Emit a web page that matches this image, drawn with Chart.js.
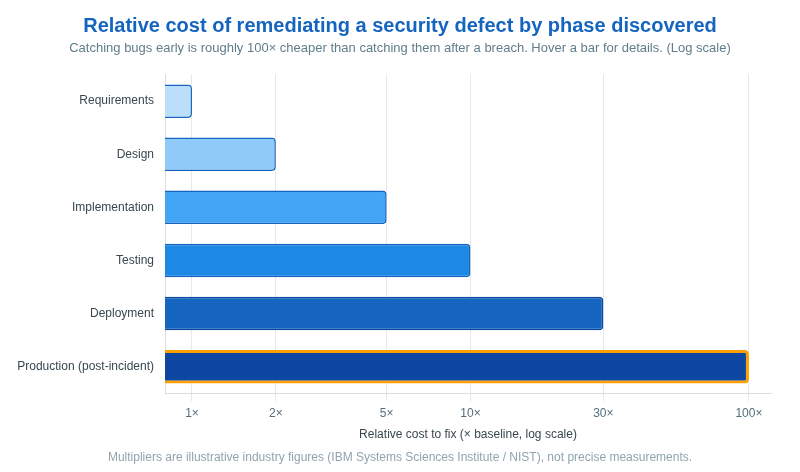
<!DOCTYPE html>
<html>
<head>
<meta charset="utf-8">
<script src="https://cdn.jsdelivr.net/npm/chart.js@4.4.1/dist/chart.umd.min.js"></script>
<style>
  html, body { margin: 0; padding: 0; background: #ffffff; }
  #wrap { position: relative; width: 800px; height: 472px; }
</style>
</head>
<body>
<div id="wrap"><canvas id="c" width="800" height="472"></canvas></div>
<script>
const phases = ['Requirements', 'Design', 'Implementation', 'Testing', 'Deployment', 'Production (post-incident)'];
const costMultipliers = [1, 2, 5, 10, 30, 100];
const tickValues = [1, 2, 5, 10, 30, 100];
const barColors = ['#BBDEFB', '#90CAF9', '#42A5F5', '#1E88E5', '#1565C0', '#0D47A1'];
const barBorders = ['#1565C0', '#1565C0', '#1565C0', '#1565C0', '#0D47A1', '#FFA000'];
const barBorderWidths = [1.5, 1.5, 1.5, 1.5, 1.5, 3];

const titleText = 'Relative cost of remediating a security defect by phase discovered';
const subtitleText = 'Catching bugs early is roughly 100\u00d7 cheaper than catching them after a breach. Hover a bar for details. (Log scale)';
const axisTitleText = 'Relative cost to fix (\u00d7 baseline, log scale)';
const footerText = 'Multipliers are illustrative industry figures (IBM Systems Sciences Institute / NIST), not precise measurements.';

const FONT = '"Helvetica Neue", Helvetica, Arial, "Liberation Sans", sans-serif';
Chart.defaults.font.family = FONT;

const footerPlugin = {
  id: 'footerNote',
  afterDraw(chart) {
    const ctx = chart.ctx;
    ctx.save();
    ctx.font = '12px ' + FONT;
    ctx.fillStyle = '#90A4AE';
    ctx.textAlign = 'center';
    ctx.textBaseline = 'middle';
    ctx.fillText(footerText, 400, 458);
    ctx.restore();
  }
};

new Chart(document.getElementById('c'), {
  type: 'bar',
  data: {
    labels: phases,
    datasets: [{
      data: costMultipliers,
      backgroundColor: barColors,
      borderColor: barBorders,
      borderWidth: barBorderWidths,
      borderRadius: 4,
      barPercentage: 0.7,
      categoryPercentage: 0.9
    }]
  },
  options: {
    indexAxis: 'y',
    responsive: false,
    animation: false,
    layout: { padding: { left: 15, right: 15, top: 0, bottom: 26 } },
    plugins: {
      legend: { display: false },
      title: {
        display: true,
        text: titleText,
        color: '#1565C0',
        font: { size: 20, weight: 'bold' },
        padding: { top: 14, bottom: 0 }
      },
      subtitle: {
        display: true,
        text: subtitleText,
        color: '#607D8B',
        font: { size: 13 },
        padding: { top: 3, bottom: 18 }
      },
      tooltip: { enabled: true }
    },
    scales: {
      x: {
        type: 'logarithmic',
        min: 0.8,
        max: 120,
        afterBuildTicks(scale) {
          scale.ticks = tickValues.map(v => ({ value: v }));
        },
        ticks: {
          color: '#546E7A',
          font: { size: 12 },
          padding: 5,
          callback: (v) => v + '\u00d7'
        },
        grid: { color: '#E8E8E8', tickLength: 8, drawTicks: true },
        border: { color: '#DDDDDD' },
        title: {
          display: true,
          text: axisTitleText,
          color: '#37474F',
          font: { size: 12 },
          padding: { top: 2, bottom: 4 }
        }
      },
      y: {
        afterFit(scale) { scale.width = 150; },
        ticks: { color: '#37474F', font: { size: 12 } },
        grid: { display: false },
        border: { color: '#DDDDDD' }
      },
      spacer: {
        type: 'linear',
        position: 'right',
        display: true,
        afterFit(scale) { scale.width = 14; },
        ticks: { display: false },
        grid: { display: false, drawTicks: false },
        border: { display: false }
      }
    }
  },
  plugins: [footerPlugin]
});
</script>
</body>
</html>
